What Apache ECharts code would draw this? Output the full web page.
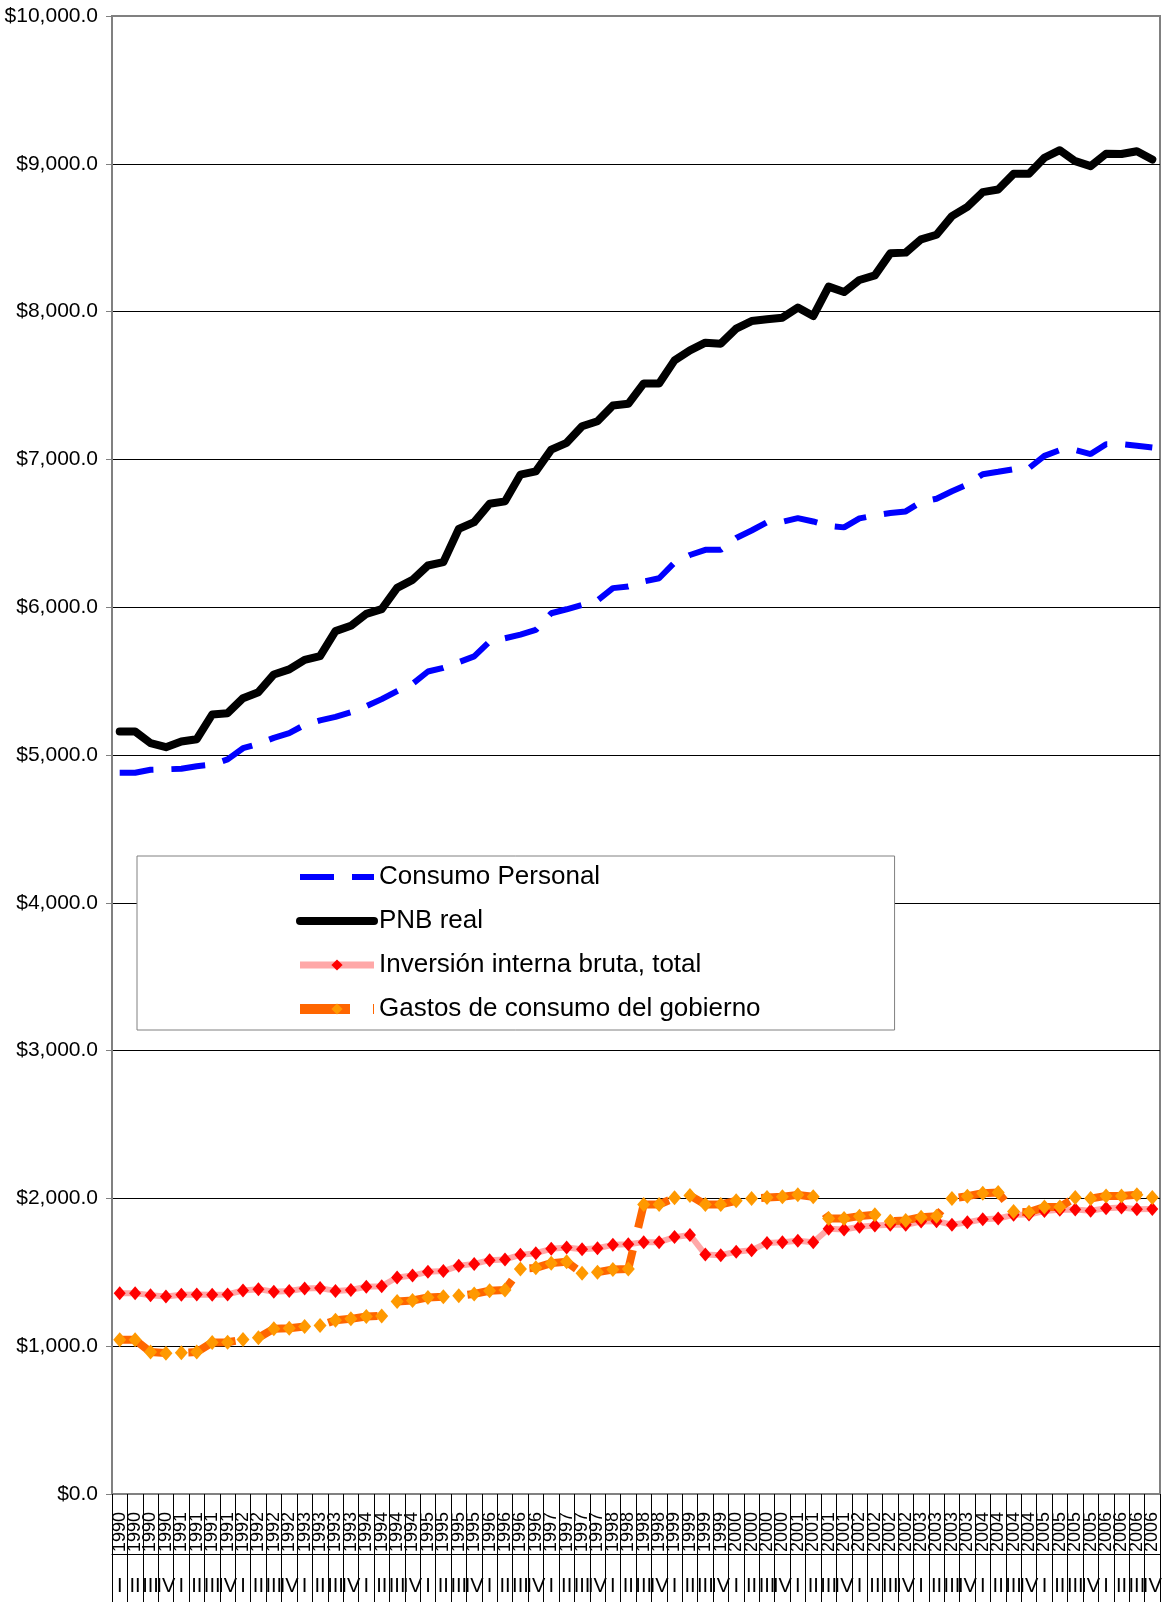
<!DOCTYPE html>
<html>
<head>
<meta charset="utf-8">
<script src="https://cdn.jsdelivr.net/npm/echarts@6/dist/echarts.min.js"></script>
<style>
html, body { margin: 0; padding: 0; background: #fff; }
#chart { width: 1165px; height: 1602px; }
</style>
</head>
<body>
<div id="chart"></div>
<script>
// trimestres 1990 I - 2006 IV
var years = ['1990', '1991', '1992', '1993', '1994', '1995', '1996', '1997', '1998',
    '1999', '2000', '2001', '2002', '2003', '2004', '2005', '2006'];
var quarters = ['I', 'II', 'III', 'IV'];

var consumoPersonal = [
    4880, 4880, 4900, 4903, 4907, 4924, 4935, 4970, 5046, 5076, 5116, 5148,
    5204, 5234, 5258, 5290, 5330, 5378, 5432, 5482, 5565, 5590, 5628, 5667,
    5768, 5790, 5815, 5846, 5959, 5986, 6016, 6045, 6129, 6140, 6174, 6196,
    6302, 6353, 6388, 6388, 6468, 6519, 6575, 6578, 6603, 6580, 6550, 6540,
    6601, 6621, 6637, 6648, 6712, 6734, 6784, 6830, 6900, 6916, 6934, 6941,
    7024, 7063, 7063, 7036, 7103, 7103, 7092, 7080
];
var pnbReal = [
    5159, 5159, 5080, 5053, 5091, 5107, 5274, 5283, 5384, 5425, 5545, 5579,
    5644, 5669, 5838, 5874, 5955, 5987, 6131, 6185, 6282, 6305, 6530, 6576,
    6700, 6716, 6897, 6919, 7066, 7112, 7224, 7258, 7365, 7376, 7514, 7514,
    7670, 7738, 7790, 7783, 7885, 7936, 7948, 7959, 8027, 7970, 8169, 8132,
    8214, 8245, 8394, 8399, 8489, 8520, 8646, 8709, 8808, 8826, 8932, 8932,
    9041, 9092, 9018, 8984, 9068, 9066, 9085, 9029
];
var inversionBruta = [
    1359, 1359, 1345, 1336, 1348, 1350, 1348, 1350, 1377, 1386, 1368, 1374,
    1390, 1393, 1374, 1381, 1402, 1406, 1465, 1478, 1503, 1508, 1544, 1557,
    1582, 1587, 1618, 1629, 1659, 1668, 1656, 1663, 1686, 1690, 1704, 1704,
    1738, 1753, 1620, 1616, 1639, 1650, 1699, 1704, 1713, 1704, 1794, 1790,
    1808, 1817, 1822, 1822, 1844, 1846, 1822, 1838, 1859, 1864, 1889, 1891,
    1914, 1923, 1925, 1916, 1934, 1938, 1927, 1929
];
var gastosGobierno = [
    1043, 1043, 960, 953, 956, 960, 1025, 1027, 1045, 1057, 1118, 1122,
    1133, 1140, 1176, 1185, 1201, 1205, 1302, 1309, 1330, 1334, 1341, 1354,
    1375, 1381, 1523, 1530, 1562, 1571, 1494, 1501, 1519, 1523, 1959, 1959,
    2004, 2020, 1959, 1959, 1984, 1999, 2006, 2011, 2024, 2011, 1864, 1864,
    1880, 1889, 1846, 1851, 1873, 1880, 1999, 2015, 2035, 2040, 1911, 1907,
    1941, 1941, 2006, 1999, 2017, 2017, 2024, 2006
];

var yearLabels = [];
var quarterLabels = [];
years.forEach(function (y) {
    quarters.forEach(function (q) {
        yearLabels.push(y);
        quarterLabels.push(q);
    });
});

var font = 'Liberation Sans, Arial, sans-serif';
var chart = echarts.init(document.getElementById('chart'));

var option = {
    animation: false,
    backgroundColor: '#fff',
    textStyle: { fontFamily: font, color: '#000' },
    grid: {
        left: 112, right: 5, top: 16, bottom: 108,
        show: true,
        borderColor: '#808080',
        borderWidth: 2,
        containLabel: false,
        outerBoundsMode: 'none'
    },
    legend: {
        orient: 'vertical',
        left: 137,
        top: 856,
        padding: [6, 134, 6, 158],
        itemGap: 14,
        itemWidth: 74,
        itemHeight: 14,
        selectedMode: false,
        backgroundColor: '#fff',
        borderColor: '#808080',
        borderWidth: 1,
        textStyle: { fontFamily: font, fontSize: 26, lineHeight: 30, color: '#000' },
        // sin marcador en las dos primeras, trazo grueso como en la hoja
        data: [
            { name: 'Consumo Personal', itemStyle: { opacity: 0 }, lineStyle: { width: 6 } },
            { name: 'PNB real', itemStyle: { opacity: 0 }, lineStyle: { width: 8 } },
            { name: 'Inversión interna bruta, total', lineStyle: { width: 7 } },
            { name: 'Gastos de consumo del gobierno', lineStyle: { width: 10 } }
        ]
    },
    xAxis: [{
        type: 'category',
        data: yearLabels,
        boundaryGap: true,
        axisLine: { lineStyle: { color: '#808080', width: 2 } },
        axisTick: { show: true, interval: 0, length: 112, lineStyle: { color: '#000', width: 1 } },
        axisLabel: {
            interval: 0, rotate: 90, margin: 18,
            fontFamily: font, fontSize: 18, color: '#000'
        },
        splitLine: { show: false }
    }, {
        type: 'category',
        data: quarterLabels,
        position: 'bottom',
        offset: 60,
        boundaryGap: true,
        axisLine: { lineStyle: { color: '#000', width: 1 } },
        axisTick: { show: false },
        axisLabel: {
            interval: 0, margin: 22,
            fontFamily: font, fontSize: 20, color: '#000'
        },
        splitLine: { show: false }
    }],
    yAxis: {
        type: 'value',
        min: 0,
        max: 10000,
        interval: 1000,
        axisLine: { show: true, lineStyle: { color: '#808080', width: 2 } },
        axisTick: { show: true, length: 6, lineStyle: { color: '#808080' } },
        axisLabel: {
            margin: 14,
            fontFamily: font, fontSize: 21, color: '#000',
            formatter: function (v) {
                return '$' + v.toLocaleString('en-US', { minimumFractionDigits: 1, maximumFractionDigits: 1 });
            }
        },
        splitLine: { show: true, showMinLine: false, showMaxLine: false, lineStyle: { color: '#000', width: 1 } }
    },
    series: [{
        name: 'Consumo Personal',
        type: 'line',
        data: consumoPersonal,
        symbol: 'none',
        lineStyle: { color: '#0000FF', width: 6, type: [34, 18], cap: 'butt' },
        itemStyle: { color: '#0000FF' }
    }, {
        name: 'PNB real',
        type: 'line',
        data: pnbReal,
        symbol: 'none',
        lineStyle: { color: '#000', width: 8, cap: 'round', join: 'round' },
        itemStyle: { color: '#000' }
    }, {
        name: 'Inversión interna bruta, total',
        type: 'line',
        data: inversionBruta,
        symbol: 'diamond',
        symbolSize: [12, 14],
        lineStyle: { color: '#FFA8A8', width: 6 },
        itemStyle: { color: '#FF0000' }
    }, {
        name: 'Gastos de consumo del gobierno',
        type: 'line',
        data: gastosGobierno,
        symbol: 'diamond',
        symbolSize: [13, 15],
        lineStyle: { color: '#FF6600', width: 8, type: [50, 23], cap: 'butt' },
        itemStyle: { color: '#FF9900' }
    }]
};

chart.setOption(option);
</script>
</body>
</html>
